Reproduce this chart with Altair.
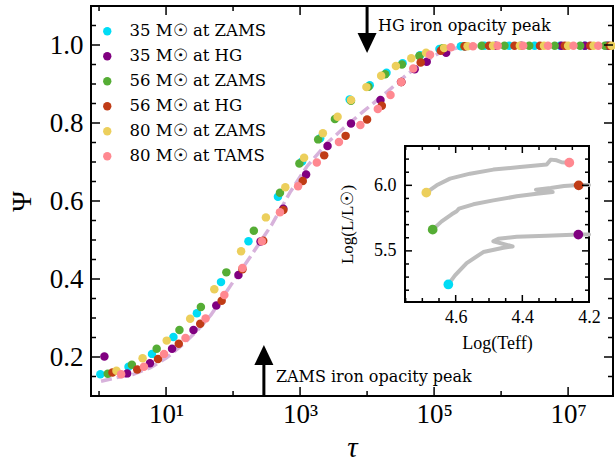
import altair as alt
import pandas as pd
import numpy as np

# ---------------- data ----------------
SERIES = ["35 M☉ at ZAMS", "35 M☉ at HG", "56 M☉ at ZAMS",
          "56 M☉ at HG", "80 M☉ at ZAMS", "80 M☉ at TAMS"]
COLORS = ["#00dcf5", "#800080", "#55ad35", "#c03c16", "#eccf5c", "#ff8890"]

# log10(tau) and Psi for each series
C35Z_X = [0.02, 0.44, 0.79, 1.11, 1.46, 1.82, 2.23, 2.67, 3.03, 3.30, 3.74, 4.04, 4.29, 4.53, 4.79, 5.08, 5.40, 5.75, 6.12, 6.50, 6.88, 7.25, 7.60]
C35Z_Y = [0.156, 0.175, 0.208, 0.251, 0.312, 0.392, 0.497, 0.611, 0.701, 0.761, 0.860, 0.897, 0.929, 0.953, 0.974, 0.990, 0.997, 0.998, 0.998, 0.998, 0.998, 0.998, 0.998]
C35H_X = [0.08, 0.42, 0.76, 1.09, 1.41, 1.75, 2.08, 2.41, 2.75, 3.09, 3.41, 3.76, 4.20, 4.51, 4.71, 4.89, 5.18, 5.46, 5.92, 6.30, 6.90, 7.25, 7.58]
C35H_Y = [0.201, 0.158, 0.184, 0.221, 0.269, 0.332, 0.410, 0.496, 0.580, 0.668, 0.741, 0.799, 0.859, 0.905, 0.938, 0.957, 0.980, 0.997, 0.998, 0.998, 0.998, 0.998, 0.998]
C56Z_X = [0.13, 0.49, 0.86, 1.20, 1.52, 1.90, 2.31, 2.70, 2.99, 3.27, 3.52, 3.76, 4.02, 4.27, 4.52, 4.78, 5.13, 5.45, 5.71, 6.05, 6.42, 6.80, 7.18, 7.55]
C56Z_Y = [0.157, 0.180, 0.221, 0.269, 0.328, 0.417, 0.524, 0.621, 0.696, 0.758, 0.810, 0.857, 0.893, 0.925, 0.950, 0.972, 0.992, 0.997, 0.998, 0.998, 0.998, 0.998, 0.998, 0.998]
C56H_X = [0.20, 0.57, 0.88, 1.19, 1.51, 1.83, 2.14, 2.45, 2.75, 3.04, 3.36, 3.68, 4.00, 4.22, 4.51, 4.80, 5.10, 5.46, 5.82, 6.20, 6.58, 6.95, 7.33, 7.62]
C56H_Y = [0.160, 0.168, 0.195, 0.234, 0.285, 0.344, 0.425, 0.498, 0.577, 0.651, 0.717, 0.767, 0.809, 0.844, 0.905, 0.955, 0.985, 0.997, 0.998, 0.998, 0.998, 0.998, 0.998, 0.998]
C80Z_X = [0.26, 0.65, 1.01, 1.36, 1.72, 2.12, 2.49, 2.78, 3.06, 3.34, 3.56, 3.76, 3.99, 4.21, 4.43, 4.66, 4.88, 5.15, 5.50, 5.88, 6.28, 6.64, 7.00, 7.38, 7.65]
C80Z_Y = [0.165, 0.197, 0.242, 0.298, 0.374, 0.471, 0.558, 0.635, 0.711, 0.774, 0.816, 0.859, 0.892, 0.921, 0.946, 0.966, 0.980, 0.992, 0.997, 0.998, 0.998, 0.998, 0.998, 0.998, 0.998]
C80T_X = [0.33, 0.67, 0.97, 1.29, 1.59, 1.87, 2.14, 2.43, 2.70, 2.97, 3.25, 3.58, 3.90, 4.16, 4.35, 4.51, 4.69, 4.94, 5.25, 5.58, 5.95, 6.33, 6.70, 7.08, 7.45]
C80T_Y = [0.156, 0.175, 0.208, 0.249, 0.299, 0.359, 0.428, 0.497, 0.571, 0.638, 0.699, 0.751, 0.795, 0.836, 0.872, 0.905, 0.940, 0.975, 0.994, 0.997, 0.998, 0.998, 0.998, 0.998, 0.998]

# dashed fit curve
FIT_X = [0.03, 0.23, 0.50, 0.76, 1.00, 1.25, 1.45, 1.67, 1.97, 2.25, 2.58, 2.85, 3.10, 3.40, 3.65, 3.94, 4.30, 4.60, 4.84, 5.10, 5.40, 5.80, 7.67]
FIT_Y = [0.138, 0.146, 0.155, 0.172, 0.197, 0.232, 0.265, 0.308, 0.385, 0.455, 0.540, 0.622, 0.688, 0.748, 0.787, 0.829, 0.880, 0.925, 0.955, 0.982, 0.995, 0.999, 1.000]

# annotations
ARROW_LOGTAU = [4.0, 2.46]
ARROW_TEXT = ["HG iron opacity peak", "ZAMS iron opacity peak"]

# inset HR tracks: log Teff, log L
TRK80_T = [4.688, 4.657, 4.617, 4.557, 4.487, 4.407, 4.327, 4.315, 4.297, 4.282, 4.259]
TRK80_L = [5.944, 6.000, 6.051, 6.089, 6.120, 6.140, 6.158, 6.196, 6.191, 6.176, 6.173]
TRK56_T = [4.669, 4.642, 4.612, 4.597, 4.590, 4.547, 4.487, 4.417, 4.357, 4.309, 4.359, 4.315, 4.275, 4.229, 4.200]
TRK56_L = [5.662, 5.725, 5.779, 5.802, 5.822, 5.855, 5.885, 5.916, 5.936, 5.949, 5.967, 5.979, 5.995, 6.003, 6.003]
TRK35_T = [4.622, 4.602, 4.567, 4.517, 4.457, 4.429, 4.487, 4.472, 4.417, 4.327, 4.229, 4.200]
TRK35_L = [5.244, 5.313, 5.407, 5.491, 5.524, 5.534, 5.573, 5.593, 5.608, 5.616, 5.624, 5.624]
INSET_T = [4.622, 4.232, 4.669, 4.231, 4.688, 4.259]
INSET_L = [5.244, 5.624, 5.662, 6.000, 5.944, 6.173]

# ticks
MX_MAJOR = [1, 3, 5, 7]
MX_MINOR = [0, 2, 4, 6]
MY_MAJOR = [0.2, 0.4, 0.6, 0.8, 1.0]
MY_MINOR = [0.15, 0.25, 0.3, 0.35, 0.45, 0.5, 0.55, 0.65, 0.7, 0.75, 0.85, 0.9, 0.95, 1.05]
IX_MAJOR = [4.4, 4.6]
IX_MINOR = [4.25, 4.3, 4.35, 4.45, 4.5, 4.55, 4.65, 4.7, 4.75]
IY_MAJOR = [5.5, 6.0]
IY_MINOR = [5.2, 5.3, 5.4, 5.6, 5.7, 5.8, 5.9, 6.1, 6.2]

# ---------------- layout ----------------
W, H = 522, 390
IX0, IX1, IY0, IY1 = 314, 498, 140, 296   # inset box inside the plot area
SERIF = "Liberation Serif"
SERIF2 = "DejaVu Serif"

xs = alt.Scale(type="log", domain=[10 ** -0.12, 10 ** 7.67], nice=False)
ys = alt.Scale(domain=[0.1, 1.1], nice=False, zero=False)
cs = alt.Scale(domain=SERIES, range=COLORS)

X_AX = alt.Axis(values=[10, 1e3, 1e5, 1e7],
                labelExpr="'10' + ['⁰','¹','²','³','⁴','⁵','⁶','⁷'][round(log(datum.value)/LN10)]",
                ticks=False, domain=False, grid=False, labelFont=SERIF, labelFontSize=27,
                labelColor="black", labelPadding=5, labelFlush=False,
                title="τ", titleFont=SERIF, titleFontStyle="italic", titleFontSize=29,
                titleFontWeight="normal", titleColor="black", titlePadding=6)
Y_AX = alt.Axis(values=MY_MAJOR, format=".1f", ticks=False, domain=False, grid=False,
                labelFont=SERIF, labelFontSize=27, labelColor="black", labelPadding=8,
                title="Ψ", titleFont=SERIF, titleFontSize=28, titleFontWeight="normal",
                titleColor="black", titlePadding=13)
LEG = alt.Legend(orient="none", legendX=8, legendY=17, labelFont=SERIF2, labelFontSize=16.5,
                 labelColor="black", symbolType="circle", symbolSize=70, symbolStrokeWidth=0,
                 rowPadding=8, labelOffset=14, padding=0, symbolOpacity=1)

rows = []
k = 0
for name, xv, yv in zip(SERIES, [C35Z_X, C35H_X, C56Z_X, C56H_X, C80Z_X, C80T_X],
                        [C35Z_Y, C35H_Y, C56Z_Y, C56H_Y, C80Z_Y, C80T_Y]):
    for a, b in zip(xv, yv):
        rows.append({"tau": 10 ** a, "psi": b, "series": name, "idx": k})
        k += 1
pts_df = pd.DataFrame(rows)
fit_df = pd.DataFrame({"tau": [10 ** v for v in FIT_X], "psi": FIT_Y})

fit = alt.Chart(fit_df).mark_line(color="#d7b2db", strokeWidth=3.5, strokeDash=[11, 5]).encode(
    x=alt.X("tau:Q", scale=xs, axis=X_AX), y=alt.Y("psi:Q", scale=ys, axis=Y_AX))
pts = alt.Chart(pts_df).mark_circle(size=72, opacity=1).encode(
    x=alt.X("tau:Q", scale=xs, axis=X_AX), y=alt.Y("psi:Q", scale=ys, axis=Y_AX),
    color=alt.Color("series:N", scale=cs, legend=LEG, title=None),
    order=alt.Order("idx:Q"))

arr_df = pd.DataFrame({"tau": [10 ** v for v in ARROW_LOGTAU], "text": ARROW_TEXT})
hg = arr_df.iloc[[0]]
za = arr_df.iloc[[1]]
hg_shaft = alt.Chart(hg).mark_rule(color="black", strokeWidth=3).encode(
    x=alt.X("tau:Q", scale=xs, axis=X_AX), y=alt.value(0), y2=alt.value(29))
hg_head = alt.Chart(hg).mark_point(shape="M-0.95,-1L0.95,-1L0,1Z", filled=True, color="black",
                                   opacity=1, size=400, strokeWidth=0).encode(
    x=alt.X("tau:Q", scale=xs, axis=X_AX), y=alt.value(37))
hg_txt = alt.Chart(hg).mark_text(align="left", baseline="middle", dx=11, font=SERIF2,
                                 fontSize=16, color="black").encode(
    x=alt.X("tau:Q", scale=xs, axis=X_AX), y=alt.value(20), text="text:N")
za_shaft = alt.Chart(za).mark_rule(color="black", strokeWidth=3).encode(
    x=alt.X("tau:Q", scale=xs, axis=X_AX), y=alt.value(356), y2=alt.value(390))
za_head = alt.Chart(za).mark_point(shape="M-0.95,1L0.95,1L0,-1Z", filled=True, color="black",
                                   opacity=1, size=400, strokeWidth=0).encode(
    x=alt.X("tau:Q", scale=xs, axis=X_AX), y=alt.value(349))
za_txt = alt.Chart(za).mark_text(align="left", baseline="middle", dx=12, font=SERIF2,
                                 fontSize=16, color="black").encode(
    x=alt.X("tau:Q", scale=xs, axis=X_AX), y=alt.value(371), text="text:N")


def xtick(vals, y0, y1, sc, ax, field="tau", conv=lambda v: 10 ** v):
    d = pd.DataFrame({field: [conv(v) for v in vals]})
    return alt.Chart(d).mark_rule(color="black", strokeWidth=1.5).encode(
        x=alt.X(f"{field}:Q", scale=sc, axis=ax), y=alt.value(y0), y2=alt.value(y1))


def ytick(vals, x0, x1, sc, ax, field="psi"):
    d = pd.DataFrame({field: vals})
    return alt.Chart(d).mark_rule(color="black", strokeWidth=1.5).encode(
        y=alt.Y(f"{field}:Q", scale=sc, axis=ax), x=alt.value(x0), x2=alt.value(x1))


main_ticks = [
    xtick(MX_MAJOR, H, H - 9, xs, X_AX), xtick(MX_MINOR, H, H - 5, xs, X_AX),
    xtick(MX_MAJOR, 0, 9, xs, X_AX), xtick(MX_MINOR, 0, 5, xs, X_AX),
    ytick(MY_MAJOR, 0, 9, ys, Y_AX), ytick(MY_MINOR, 0, 5, ys, Y_AX),
    ytick(MY_MAJOR, W, W - 9, ys, Y_AX), ytick(MY_MINOR, W, W - 5, ys, Y_AX),
]

main = alt.layer(fit, pts, hg_shaft, hg_head, hg_txt, za_shaft, za_head, za_txt, *main_ticks)

# ---------------- inset ----------------
ixs = alt.Scale(domain=[4.2, 4.752], range=[IX1, IX0], nice=False, zero=False)
iys = alt.Scale(domain=[5.11, 6.30], range=[IY1, IY0], nice=False, zero=False)
IX_AX = alt.Axis(orient="bottom", offset=IY1 - H, values=[4.2, 4.4, 4.6], format=".1f",
                 ticks=False, domain=False, grid=False, labelFont=SERIF, labelFontSize=18,
                 labelColor="black", labelPadding=6, labelFlush=False,
                 title="Log(Teff)", titleFont=SERIF, titleFontSize=18, titleFontWeight="normal",
                 titleColor="black", titlePadding=8)
IY_AX = alt.Axis(orient="left", offset=-IX0, values=[5.5, 6.0], format=".1f",
                 ticks=False, domain=False, grid=False, labelFont=SERIF, labelFontSize=18,
                 labelColor="black", labelPadding=9, labelFlush=False,
                 title="Log(L/L☉)", titleFont=SERIF, titleFontSize=17, titleFontWeight="normal",
                 titleColor="black", titlePadding=17)

box = alt.Chart(pd.DataFrame({"a": [0]})).mark_rect(fill="white", stroke="black", strokeWidth=2).encode(
    x=alt.value(IX0), x2=alt.value(IX1), y=alt.value(IY0), y2=alt.value(IY1))

trows = []
for name, tv, lv in [("80", TRK80_T, TRK80_L), ("56", TRK56_T, TRK56_L), ("35", TRK35_T, TRK35_L)]:
    for i, (a, b) in enumerate(zip(tv, lv)):
        trows.append({"logT": a, "logL": b, "track": name, "k": i})
trk_df = pd.DataFrame(trows)
tracks = alt.Chart(trk_df).mark_line(color="#bdbdbd", strokeWidth=4, strokeJoin="round",
                                     strokeCap="round").encode(
    x=alt.X("logT:Q", scale=ixs, axis=IX_AX), y=alt.Y("logL:Q", scale=iys, axis=IY_AX),
    detail="track:N", order=alt.Order("k:Q"))
ipts = alt.Chart(pd.DataFrame({"logT": INSET_T, "logL": INSET_L, "series": SERIES})).mark_circle(
    size=95, opacity=1).encode(
    x=alt.X("logT:Q", scale=ixs, axis=IX_AX), y=alt.Y("logL:Q", scale=iys, axis=IY_AX),
    color=alt.Color("series:N", scale=cs, legend=LEG, title=None))

ident = lambda v: v
inset_ticks = [
    xtick(IX_MAJOR, IY1, IY1 - 7, ixs, IX_AX, "logT", ident),
    xtick(IX_MINOR, IY1, IY1 - 4, ixs, IX_AX, "logT", ident),
    xtick(IX_MAJOR, IY0, IY0 + 7, ixs, IX_AX, "logT", ident),
    xtick(IX_MINOR, IY0, IY0 + 4, ixs, IX_AX, "logT", ident),
    ytick(IY_MAJOR, IX0, IX0 + 7, iys, IY_AX, "logL"),
    ytick(IY_MINOR, IX0, IX0 + 4, iys, IY_AX, "logL"),
    ytick(IY_MAJOR, IX1, IX1 - 7, iys, IY_AX, "logL"),
    ytick(IY_MINOR, IX1, IX1 - 4, iys, IY_AX, "logL"),
]
inset = alt.layer(box, tracks, ipts, *inset_ticks)

chart = alt.layer(main, inset).resolve_scale(x="independent", y="independent").properties(
    width=W, height=H, autosize=alt.AutoSizeParams(type="none"),
    padding={"left": 91, "top": 6, "right": 2, "bottom": 65}
).configure_view(stroke="black", strokeWidth=2).configure_axis(labelColor="black")

chart.save("out.html", embed_options={"renderer": "svg", "actions": False})
